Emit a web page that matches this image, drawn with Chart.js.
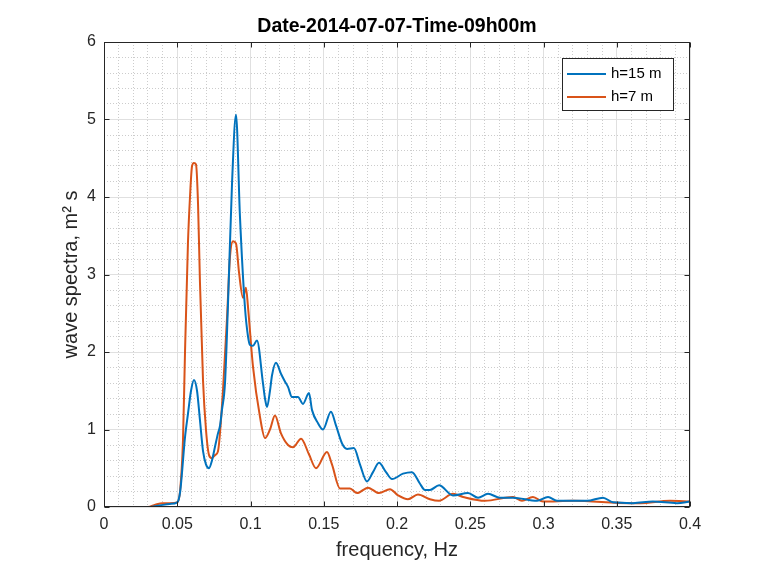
<!DOCTYPE html>
<html>
<head>
<meta charset="utf-8">
<script src="https://cdn.jsdelivr.net/npm/chart.js@4/dist/chart.umd.min.js"></script>
<style>
  html, body { margin: 0; padding: 0; background: #ffffff; }
  canvas { display: block; }
</style>
</head>
<body>
<canvas id="c" width="760" height="564"></canvas>
<script>
// ---------- data ----------
const chartTitle = "Date-2014-07-07-Time-09h00m";
const xLabel = "frequency, Hz";
const yLabel = "wave spectra, m\u00B2 s";
const seriesNames = ["h=15 m", "h=7 m"];

const xTicks = [0, 0.05, 0.1, 0.15, 0.2, 0.25, 0.3, 0.35, 0.4];
const yTicks = [0, 1, 2, 3, 4, 5, 6];

// h = 15 m
const freq15 = [0, 0.025, 0.031, 0.038, 0.045, 0.050, 0.052, 0.0553, 0.0573, 0.0594, 0.0614, 0.0635, 0.0655, 0.0676, 0.0696, 0.0717, 0.0737, 0.0758, 0.0778, 0.0792, 0.0805, 0.0826, 0.0846, 0.0874, 0.0901, 0.0928, 0.0962, 0.0983, 0.0997, 0.1017, 0.1044, 0.1085, 0.1099, 0.1113, 0.1133, 0.1147, 0.1174, 0.1208, 0.1235, 0.1256, 0.1283, 0.1324, 0.1358, 0.1399, 0.1420, 0.1461, 0.1495, 0.1549, 0.1584, 0.1625, 0.1659, 0.1706, 0.1747, 0.1795, 0.1836, 0.1877, 0.1925, 0.1966, 0.2041, 0.2102, 0.2157, 0.2191, 0.2225, 0.2287, 0.2382, 0.2485, 0.2553, 0.2621, 0.2703, 0.2792, 0.2956, 0.3031, 0.3092, 0.3297, 0.3406, 0.3474, 0.3611, 0.3747, 0.3911, 0.4];
const spec15 = [0, 0, 0, 0.02, 0.04, 0.06, 0.2, 0.9, 1.2, 1.5, 1.64, 1.5, 1.12, 0.72, 0.55, 0.5, 0.6, 0.78, 0.95, 1.05, 1.25, 1.6, 2.6, 4.18, 5.06, 3.75, 2.58, 2.2, 2.09, 2.08, 2.15, 1.6, 1.4, 1.29, 1.5, 1.7, 1.86, 1.72, 1.62, 1.55, 1.42, 1.42, 1.33, 1.47, 1.25, 1.08, 1.0, 1.23, 1.05, 0.82, 0.75, 0.76, 0.55, 0.33, 0.45, 0.57, 0.45, 0.36, 0.43, 0.45, 0.3, 0.22, 0.22, 0.28, 0.15, 0.18, 0.12, 0.17, 0.12, 0.12, 0.08, 0.13, 0.08, 0.08, 0.12, 0.06, 0.05, 0.07, 0.05, 0.07];

// h = 7 m
const freq7 = [0, 0.030, 0.035, 0.040, 0.045, 0.050, 0.0519, 0.0539, 0.0553, 0.0573, 0.0587, 0.0601, 0.0614, 0.0628, 0.0642, 0.0655, 0.0676, 0.0696, 0.0717, 0.0737, 0.0758, 0.0778, 0.0812, 0.0840, 0.0860, 0.0881, 0.0901, 0.0922, 0.0949, 0.0969, 0.0983, 0.1017, 0.1065, 0.1099, 0.1133, 0.1167, 0.1208, 0.1256, 0.1290, 0.1345, 0.1399, 0.1447, 0.1522, 0.1556, 0.1611, 0.1679, 0.1727, 0.1802, 0.1877, 0.1952, 0.2007, 0.2075, 0.2143, 0.2225, 0.2287, 0.2382, 0.2451, 0.2601, 0.2792, 0.2853, 0.2928, 0.2997, 0.3201, 0.3590, 0.3659, 0.3863, 0.4];
const spec7 = [0, 0, 0.03, 0.05, 0.05, 0.06, 0.2, 0.85, 2.0, 3.4, 4.0, 4.4, 4.44, 4.42, 3.9, 2.9, 1.63, 1.0, 0.67, 0.63, 0.67, 0.72, 1.5, 2.45, 3.23, 3.43, 3.4, 3.02, 2.7, 2.83, 2.58, 1.81, 1.16, 0.89, 1.0, 1.18, 0.95, 0.8, 0.77, 0.88, 0.68, 0.5, 0.71, 0.55, 0.24, 0.24, 0.18, 0.25, 0.18, 0.23, 0.15, 0.1, 0.16, 0.1, 0.08, 0.17, 0.13, 0.08, 0.13, 0.08, 0.13, 0.07, 0.08, 0.05, 0.05, 0.08, 0.07];

// ---------- styling ----------
const FONT = "'Liberation Sans', Arial, Helvetica, sans-serif";
const AXIS_COLOR = '#262626';
const COLORS = ['#0072BD', '#D95319'];

const toPoints = (xs, ys) => xs.map((x, i) => ({ x: x, y: ys[i] }));
const fmt = v => String(parseFloat(Number(v).toFixed(3)));

const bgPlugin = {
  id: 'bg',
  beforeDraw(chart) {
    const ctx = chart.ctx;
    ctx.save();
    ctx.fillStyle = '#ffffff';
    ctx.fillRect(0, 0, chart.width, chart.height);
    ctx.restore();
  }
};

const boxPlugin = {
  id: 'box',
  afterDatasetsDraw(chart) {
    const { ctx, chartArea: a, scales } = chart;
    ctx.save();
    ctx.strokeStyle = AXIS_COLOR;
    ctx.lineWidth = 1;
    const L = Math.round(a.left) + 0.5, R = Math.round(a.right) - 0.5;
    const T = Math.round(a.top) + 0.5, B = Math.round(a.bottom) - 0.5;
    ctx.strokeRect(L, T, R - L, B - T);
    const tl = 5;
    ctx.beginPath();
    xTicks.forEach(v => {
      const px = Math.round(scales.x.getPixelForValue(v)) + 0.5;
      ctx.moveTo(px, B); ctx.lineTo(px, B - tl);
      ctx.moveTo(px, T); ctx.lineTo(px, T + tl);
    });
    yTicks.forEach(v => {
      const py = Math.round(scales.y.getPixelForValue(v)) + 0.5;
      ctx.moveTo(L, py); ctx.lineTo(L + tl, py);
      ctx.moveTo(R, py); ctx.lineTo(R - tl, py);
    });
    ctx.stroke();

    // legend box inside the axes (north-east)
    const bx = a.right - 128, by = a.top + 16, bw = 111, bh = 52;
    ctx.fillStyle = '#ffffff';
    ctx.fillRect(bx, by, bw, bh);
    ctx.strokeStyle = '#262626';
    ctx.lineWidth = 1;
    ctx.strokeRect(Math.round(bx) + 0.5, Math.round(by) + 0.5, bw, bh);
    ctx.font = '15px ' + FONT;
    ctx.textBaseline = 'middle';
    ctx.textAlign = 'left';
    chart.data.datasets.forEach((ds, i) => {
      const yy = by + 16 + i * 23;
      ctx.strokeStyle = ds.borderColor;
      ctx.lineWidth = 2;
      ctx.beginPath();
      ctx.moveTo(bx + 5, yy); ctx.lineTo(bx + 44, yy);
      ctx.stroke();
      ctx.fillStyle = '#000000';
      ctx.fillText(ds.label, bx + 49, yy);
    });
    ctx.restore();
  }
};

new Chart(document.getElementById('c'), {
  type: 'line',
  data: {
    datasets: [
      { label: seriesNames[0], data: toPoints(freq15, spec15), borderColor: COLORS[0], backgroundColor: COLORS[0], borderWidth: 2, pointRadius: 0, fill: false, cubicInterpolationMode: 'monotone' },
      { label: seriesNames[1], data: toPoints(freq7, spec7), borderColor: COLORS[1], backgroundColor: COLORS[1], borderWidth: 2, pointRadius: 0, fill: false, cubicInterpolationMode: 'monotone' }
    ]
  },
  options: {
    responsive: false,
    animation: false,
    devicePixelRatio: 1,
    layout: { padding: { left: 0, right: 70, top: 0, bottom: 0 } },
    plugins: {
      legend: { display: false },
      tooltip: { enabled: false },
      title: {
        display: true, text: chartTitle, color: '#000000', fullSize: false,
        font: { family: FONT, size: 19.5, weight: 'bold' },
        padding: { top: 15, bottom: 3.6 }
      }
    },
    scales: {
      x: {
        type: 'linear', position: 'bottom', min: 0, max: 0.4,
        afterBuildTicks: s => { s.ticks = xTicks.map(v => ({ value: v })); },
        afterFit: s => { s.height = 57; },
        ticks: { font: { family: FONT, size: 16 }, color: AXIS_COLOR, padding: 8, maxRotation: 0, autoSkip: false, callback: v => fmt(v) },
        grid: { color: '#e0e0e0', lineWidth: 1, drawTicks: false, z: -1 },
        border: { display: false },
        title: { display: true, text: xLabel, color: AXIS_COLOR, font: { family: FONT, size: 20 }, padding: { top: 0, bottom: 2 } }
      },
      y: {
        type: 'linear', position: 'left', min: 0, max: 6,
        afterBuildTicks: s => { s.ticks = yTicks.map(v => ({ value: v })); },
        afterFit: s => { s.width = 104; },
        ticks: { font: { family: FONT, size: 16 }, color: AXIS_COLOR, padding: 8, autoSkip: false, callback: v => fmt(v) },
        grid: { color: '#e0e0e0', lineWidth: 1, drawTicks: false, z: -1 },
        border: { display: false },
        title: { display: true, text: yLabel, color: AXIS_COLOR, font: { family: FONT, size: 20 }, padding: { top: 59, bottom: 0 } }
      },
      xMinor: {
        type: 'linear', position: 'bottom', min: 0, max: 0.4,
        afterFit: s => { s.height = 0; },
        ticks: { display: false, stepSize: 0.01, maxTicksLimit: 100 },
        grid: { color: '#cccccc', lineWidth: 1, drawTicks: false, z: -2 },
        border: { display: false, dash: [1, 2] }
      },
      yMinor: {
        type: 'linear', position: 'left', min: 0, max: 6,
        afterFit: s => { s.width = 0; },
        ticks: { display: false, stepSize: 0.2, maxTicksLimit: 100 },
        grid: { color: '#cccccc', lineWidth: 1, drawTicks: false, z: -2 },
        border: { display: false, dash: [1, 2] }
      }
    }
  },
  plugins: [bgPlugin, boxPlugin]
});
</script>
</body>
</html>
